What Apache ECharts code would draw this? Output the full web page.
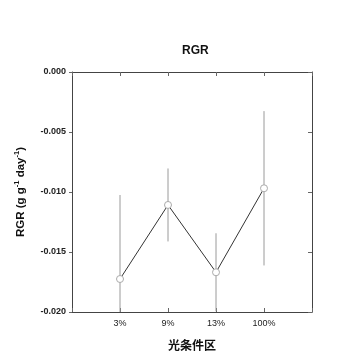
<!DOCTYPE html>
<html><head><meta charset="utf-8">
<script src="https://cdn.jsdelivr.net/npm/echarts@6/dist/echarts.min.js"></script>
<style>html,body{margin:0;padding:0;background:#fff}#c{width:360px;height:360px}</style>
</head><body><div id="c"></div>
<script>
var categories = ['3%', '9%', '13%', '100%'];
var means = [-0.01725, -0.01108, -0.01669, -0.00969];
var errors = [0.00700, 0.00304, 0.00325, 0.00643];
var yTicks = [-0.020, -0.015, -0.010, -0.005, 0.000];

var chart = echarts.init(document.getElementById('c'));
var font = 'Liberation Sans, Arial, sans-serif';
var lineData = means.map(function (v, i) { return [i + 1, v]; });
var errData = means.map(function (v, i) { return [i + 1, v - errors[i], v + errors[i]]; });

chart.setOption({
  animation: false,
  title: { text: 'RGR', left: 177, top: 40,
    textStyle: { fontFamily: font, fontSize: 12, fontWeight: 'bold', color: '#111' } },
  grid: { left: 72, right: 48, top: 72, bottom: 48 },
  xAxis: [{
    type: 'value', min: 0, max: 5, interval: 1, position: 'bottom',
    name: '光条件区', nameLocation: 'middle', nameGap: 27,
    nameTextStyle: { fontFamily: 'Noto Sans CJK JP', fontSize: 12, fontWeight: 'bold', color: '#111' },
    axisLine: { onZero: false, lineStyle: { color: '#444', width: 1 } },
    axisTick: { inside: true, length: 4, lineStyle: { color: '#666' } },
    splitLine: { show: false },
    axisLabel: { fontFamily: font, fontSize: 9, color: '#222', margin: 7,
      formatter: function (v) { return categories[v - 1] || ''; } }
  }, {
    type: 'value', min: 0, max: 5, interval: 1, position: 'top',
    axisLine: { show: true, onZero: false, lineStyle: { color: '#444', width: 1 } },
    axisTick: { show: true, inside: true, length: 4, lineStyle: { color: '#666' } },
    axisLabel: { show: false }, splitLine: { show: false }
  }],
  yAxis: [{
    type: 'value', min: -0.02, max: 0, interval: 0.005, position: 'left',
    name: '{b|RGR (g g}{s|-1}{b| day}{s|-1}{b|)}', nameLocation: 'middle', nameGap: 44, nameRotate: 90,
    nameTextStyle: { rich: {
      b: { fontFamily: font, fontSize: 11.5, fontWeight: 'bold', color: '#111' },
      s: { fontFamily: font, fontSize: 7.5, fontWeight: 'bold', color: '#111', padding: [0, 0, 7, 0] }
    } },
    axisLine: { show: true, onZero: false, lineStyle: { color: '#444', width: 1 } },
    axisTick: { show: true, length: 3, lineStyle: { color: '#666' } },
    splitLine: { show: false },
    axisLabel: { fontFamily: font, fontSize: 9, fontWeight: 'bold', color: '#222', margin: 6,
      formatter: function (v) { return v.toFixed(3); } }
  }, {
    type: 'value', min: -0.02, max: 0, interval: 0.005, position: 'right',
    axisLine: { show: true, onZero: false, lineStyle: { color: '#444', width: 1 } },
    axisTick: { show: true, inside: true, length: 4, lineStyle: { color: '#666' } },
    axisLabel: { show: false }, splitLine: { show: false }
  }],
  series: [{
    type: 'custom', clip: true, z: 1,
    data: errData,
    renderItem: function (params, api) {
      var x = api.value(0);
      var lo = api.coord([x, api.value(1)]);
      var hi = api.coord([x, api.value(2)]);
      return { type: 'line', shape: { x1: lo[0], y1: lo[1], x2: hi[0], y2: hi[1] },
        style: { stroke: '#9a9a9a', lineWidth: 1 } };
    }
  }, {
    type: 'line', z: 3, data: lineData,
    symbol: 'circle', symbolSize: 7,
    lineStyle: { color: '#333', width: 1 },
    itemStyle: { color: '#fff', borderColor: '#aaa', borderWidth: 1 }
  }]
});
</script></body></html>
